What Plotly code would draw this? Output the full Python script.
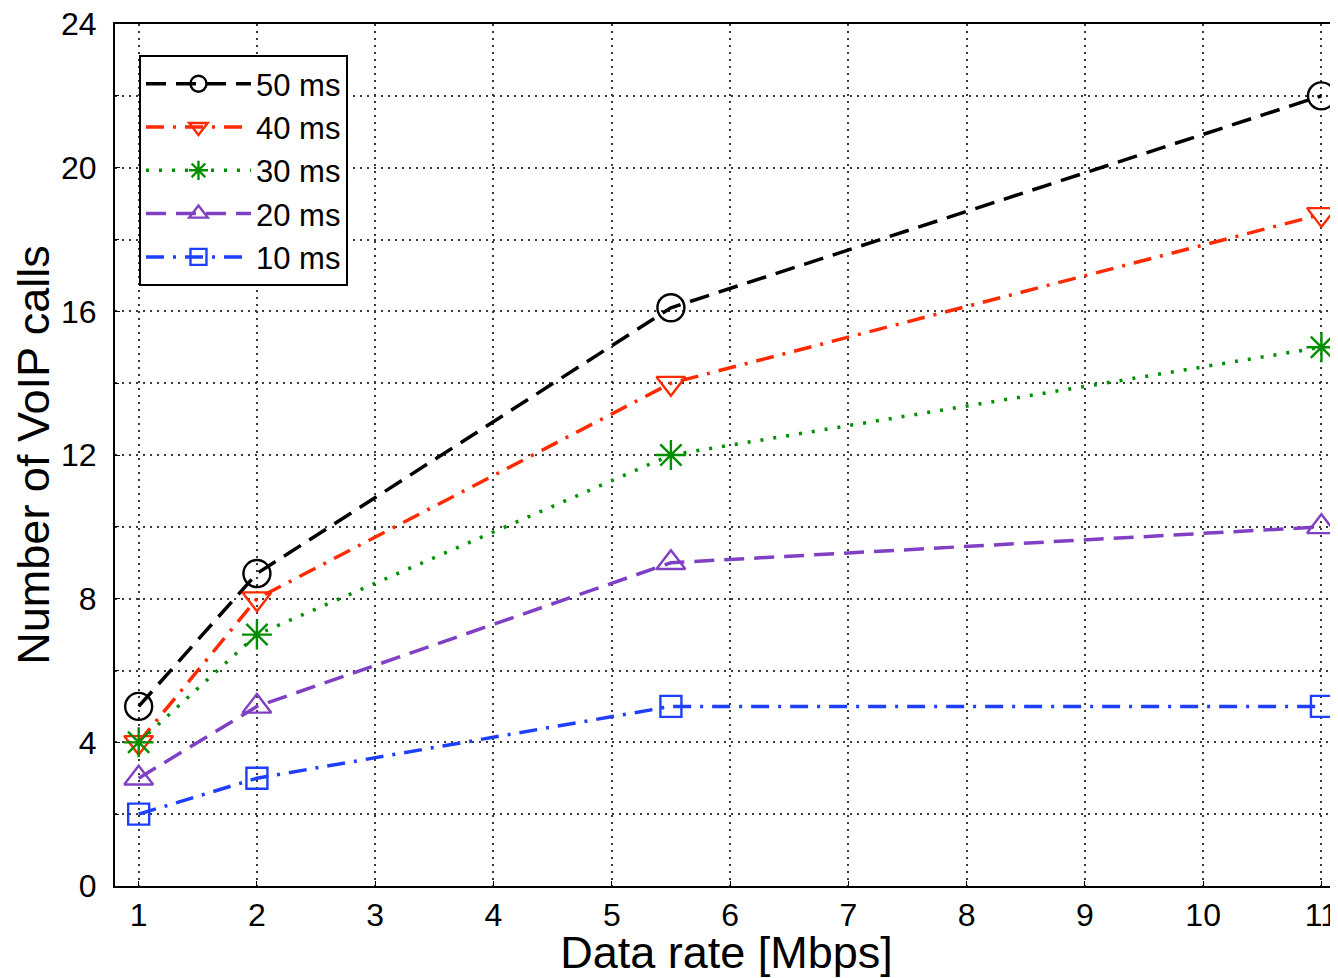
import plotly.graph_objects as go

# data rates at which the calls were counted
data_rate = [1, 2, 5.5, 11]

calls_50ms = [5, 8.7, 16.1, 22]
calls_40ms = [4, 8, 14, 18.7]
calls_30ms = [4, 7, 12, 15]
calls_20ms = [3, 5, 9, 10]
calls_10ms = [2, 3, 5, 5]

DASH = "20px,10px"
DASHDOT = "18px,9px,3px,9px"
DOT = "3px,10px"

series = [
    ("50 ms", calls_50ms, "black", DASH, "circle-open", 27),
    ("40 ms", calls_40ms, "#ff2a00", DASHDOT, "triangle-down-open", 25),
    ("30 ms", calls_30ms, "#008f00", DOT, "asterisk-open", 25),
    ("20 ms", calls_20ms, "#8040c4", DASH, "triangle-up-open", 25),
    ("10 ms", calls_10ms, "#1f3fff", DASHDOT, "square-open", 21),
]

fig = go.Figure()
for name, vals, color, dash, symbol, size in series:
    fig.add_trace(go.Scatter(
        x=data_rate, y=vals, name=name, mode="lines+markers",
        line=dict(color=color, width=3.5, dash=dash),
        marker=dict(symbol=symbol, size=size, color=color,
                    line=dict(color=color, width=2.4)),
    ))

font = "Liberation Sans, Arial, Helvetica, sans-serif"
grid = dict(showgrid=True, gridcolor="#3a3a3a", griddash="2px,5px", gridwidth=2)

fig.update_xaxes(
    range=[0.8, 11.14], tickmode="array", tickvals=list(range(1, 12)),
    **grid,
    showline=True, linecolor="black", linewidth=2, mirror=True,
    ticks="inside", ticklen=5, tickcolor="black",
    zeroline=False, tickfont=dict(size=32, color="black"),
    ticklabelstandoff=0, ticklabeloverflow="allow", automargin=False,
    title=dict(text="Data rate [Mbps]", font=dict(size=45, color="black"), standoff=4),
)
fig.update_yaxes(
    range=[0, 24], dtick=4, tick0=0,
    **grid,
    minor=dict(dtick=2, ticks="inside", ticklen=4, tickcolor="black", **grid),
    showline=True, linecolor="black", linewidth=2, mirror=False,
    ticks="inside", ticklen=5, tickcolor="black",
    zeroline=False, tickfont=dict(size=32, color="black"),
    ticklabelstandoff=10, ticklabeloverflow="allow", automargin=False,
    title=dict(text="Number of VoIP calls", font=dict(size=45, color="black"), standoff=8),
)

# page body adds an 8px margin, so the figure is a bit smaller than the window
fig.update_layout(
    width=1330, height=970,
    margin=dict(l=107, r=0, t=16, b=92),
    paper_bgcolor="white", plot_bgcolor="white",
    font=dict(family=font, color="black"),
    legend=dict(
        x=0.0196, y=0.964, xanchor="left", yanchor="top",
        bgcolor="white", bordercolor="black", borderwidth=2,
        font=dict(size=31), itemwidth=105, tracegroupgap=0,
    ),
)

fig.write_html("out.html")
